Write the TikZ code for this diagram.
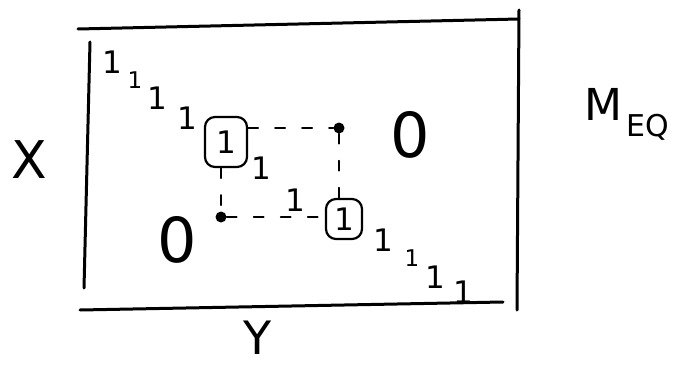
\documentclass[tikz,border=0pt]{standalone}
\usepackage{fontspec}
\setmainfont{DejaVu Sans}
\begin{document}
\begin{tikzpicture}[x=1pt,y=-1pt,
  frame/.style={line width=3pt, line cap=round},
  one/.style={font=\fontsize{31}{31}\selectfont, inner sep=0pt},
  smallone/.style={font=\fontsize{23}{23}\selectfont, inner sep=0pt},
  boxed/.style={draw, line width=2.2pt, rounded corners=10pt, inner sep=0pt,
                font=\fontsize{31}{31}\selectfont},
  zero/.style={font=\fontsize{62}{62}\selectfont, inner sep=0pt},
  dot/.style={circle, fill, inner sep=0pt, minimum size=11pt},
  link/.style={line width=1.8pt, dash pattern=on 10pt off 17pt, line cap=round},
  axis/.style={font=\fontsize{52}{52}\selectfont, inner sep=0pt}]
\useasboundingbox (0,0) rectangle (694,369);
% frame of the matrix
\coordinate (t1) at (78,29);  \coordinate (t2) at (519,19);
\coordinate (r1) at (519,10); \coordinate (r2) at (517,310);
\coordinate (l1) at (90,42);  \coordinate (l2) at (84,288);
\coordinate (b1) at (80,310); \coordinate (b2) at (503,302);
\draw[frame] (t1) -- (t2);
\draw[frame] (r1) -- (r2);
\draw[frame] (l1) -- (l2);
\draw[frame] (b1) -- (b2);
% axis labels
\node[axis] (xl) at (29,160) {X};
\node[axis, font=\fontsize{46}{46}\selectfont] (yl) at (258,338) {Y};
\node[inner sep=0pt, anchor=west] (meq) at (584,114)
  {\fontsize{44}{44}\selectfont M\kern4pt\raisebox{-16pt}{\fontsize{30}{30}\selectfont EQ}};
% diagonal entries
\node[one] (d1) at (112,62) {1};
\node[smallone] (d2) at (135,80) {1};
\node[one] (d3) at (157,98) {1};
\node[one] (d4) at (187,118) {1};
\node[boxed, minimum width=42pt, minimum height=50pt] (b1n) at (226,142) {1};
\node[one] (d5) at (261,168) {1};
\node[one] (d6) at (295,200) {1};
\node[boxed, minimum width=36pt, minimum height=40pt] (b2n) at (344,219) {1};
\node[one] (d7) at (383,240) {1};
\node[smallone] (d8) at (412,258) {1};
\node[one] (d9) at (435,277) {1};
\node[one] (d10) at (463,292) {1};
% zeros
\node[zero] (z1) at (410,135) {0};
\node[zero] (z2) at (177,240) {0};
% swap corners
\node[dot] (p1) at (339,128) {};
\node[dot] (p2) at (221,217) {};
\draw[link] (b1n.east |- p1) -- (p1);
\draw[link] (b1n.south -| p2) -- (p2);
\draw[link] (p2) -- (p2 -| b2n.west);
\draw[link] (p1) -- (p1 |- b2n.north);
\end{tikzpicture}
\end{document}
